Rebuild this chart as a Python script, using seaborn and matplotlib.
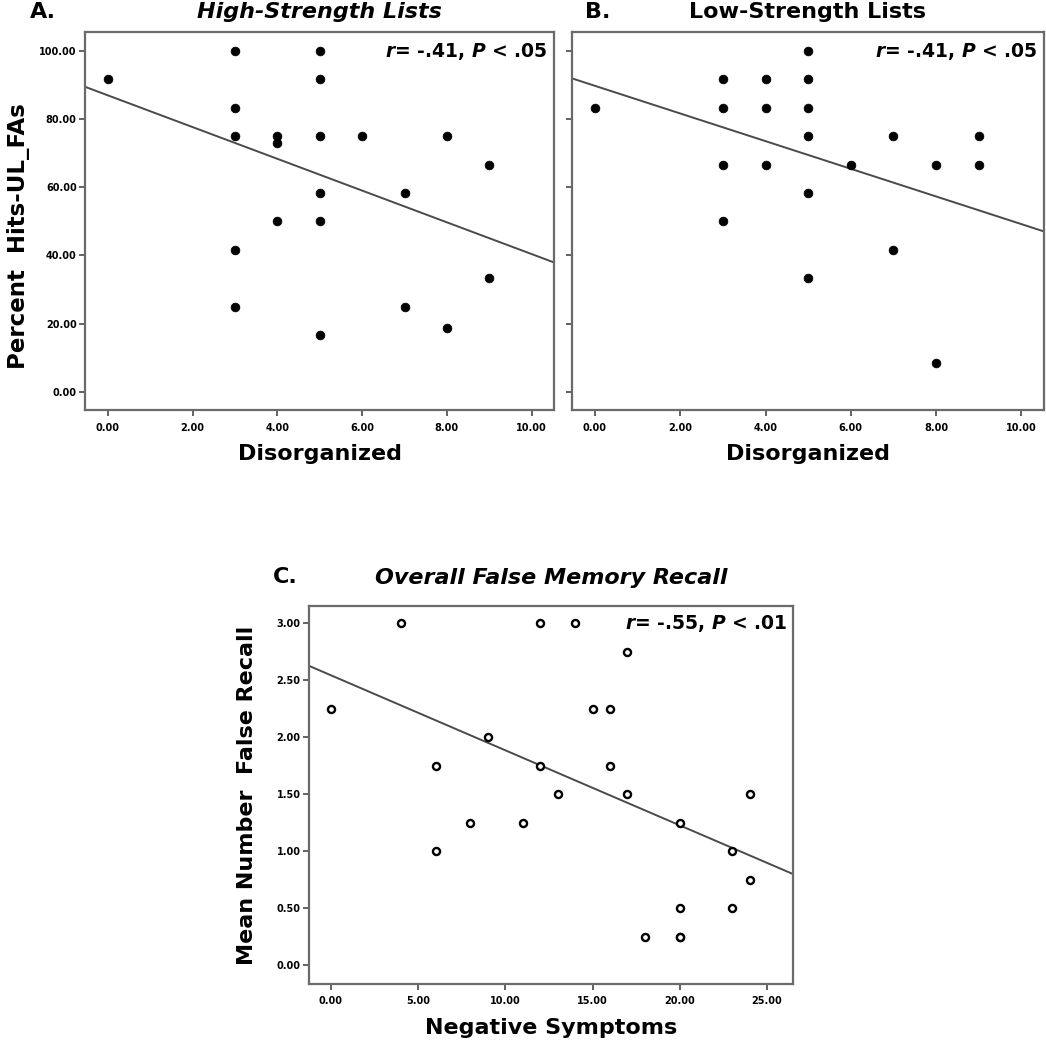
import numpy as np
import pandas as pd
import matplotlib
matplotlib.use('Agg')
import matplotlib.pyplot as plt
import seaborn as sns

# panel A: high-strength lists
hi_x = [0, 3, 3, 3, 3, 3, 4, 4, 4, 5, 5, 5, 5, 5, 5, 6, 7, 7, 8, 8, 9, 9]
hi_y = [91.67, 100, 83.33, 75, 41.67, 25, 75, 73, 50, 100, 91.67, 75, 58.33,
        50, 16.67, 75, 58.33, 25, 75, 18.75, 66.67, 33.33]
hi_fit = (87.0, -4.66)  # intercept, slope

# panel B: low-strength lists
lo_x = [0, 3, 3, 3, 3, 4, 4, 4, 5, 5, 5, 5, 5, 5, 6, 7, 7, 8, 8, 9, 9]
lo_y = [83.33, 91.67, 83.33, 66.67, 50, 91.67, 83.33, 66.67, 100, 91.67, 83.33,
        75, 58.33, 33.33, 66.67, 75, 41.67, 66.67, 8.33, 75, 66.67]
lo_fit = (89.8, -4.06)

# panel C: overall false memory recall
neg_x = [0, 4, 6, 6, 8, 9, 11, 12, 12, 13, 14, 15, 16, 16, 17, 17, 18, 20, 20,
         20, 20, 23, 23, 24, 24]
neg_y = [2.25, 3.0, 1.75, 1.0, 1.25, 2.0, 1.25, 3.0, 1.75, 1.5, 3.0, 2.25, 2.25,
         1.75, 2.75, 1.5, 0.25, 1.25, 0.5, 0.25, 0.25, 1.0, 0.5, 1.5, 0.75]
neg_fit = (2.542, -0.0658)

sns.set_theme(style='white')
plt.rcParams['font.family'] = ['DejaVu Sans']
plt.rcParams['text.color'] = 'black'
plt.rcParams['axes.labelcolor'] = 'black'
plt.rcParams['xtick.color'] = 'black'
plt.rcParams['ytick.color'] = 'black'
plt.rcParams['mathtext.fontset'] = 'custom'
plt.rcParams['mathtext.it'] = 'DejaVu Sans:bold:italic'
plt.rcParams['mathtext.rm'] = 'DejaVu Sans:bold'

fig = plt.figure(figsize=(10.46, 10.5), dpi=100)
axA = fig.add_axes([0.0813, 0.6095, 0.4484, 0.36])
axB = fig.add_axes([0.5468, 0.6095, 0.4512, 0.36])
axC = fig.add_axes([0.2954, 0.0629, 0.4627, 0.36])

frame = '#6a6a6a'
line_col = '#4a4a4a'
big = 16
note = 13.5


def style_axes(ax):
    for s in ax.spines.values():
        s.set_color(frame)
        s.set_linewidth(1.6)
    ax.tick_params(axis='both', which='major', direction='out', length=4,
                   width=1.3, color='#555555', labelsize=7, pad=2,
                   bottom=True, left=True)
    ax.tick_params(axis='x', pad=5)
    for lab in ax.get_xticklabels() + ax.get_yticklabels():
        lab.set_fontweight('bold')


panels = [
    (axA, hi_x, hi_y, hi_fit, 'High-Strength Lists', 'italic', 'A.', 0.029),
    (axB, lo_x, lo_y, lo_fit, 'Low-Strength Lists', 'normal', 'B.', 0.559),
]
for ax, xs, ys, fit, title, style, letter, lx in panels:
    df = pd.DataFrame({'x': xs, 'y': ys})
    sns.scatterplot(data=df, x='x', y='y', ax=ax, color='black', s=40,
                    edgecolor='black', linewidth=0.5, zorder=3)
    ax.axline((0, fit[0]), slope=fit[1], color=line_col, lw=1.4, zorder=2)
    ax.set_xlim(-0.54, 10.53)
    ax.set_ylim(-5.4, 105.6)
    ax.set_xticks(np.arange(0, 11, 2))
    ax.set_xticklabels([f'{v:.2f}' for v in np.arange(0, 11, 2)])
    ax.set_yticks(np.arange(0, 101, 20))
    ax.set_yticklabels([f'{v:.2f}' for v in np.arange(0, 101, 20)])
    ax.set_xlabel('Disorganized', fontsize=big, fontweight='bold', labelpad=8)
    ax.set_ylabel('')
    ax.set_title(title, fontsize=big, fontweight='bold', fontstyle=style, pad=10)
    ax.text(0.987, 100, r'$\mathit{r}$= -.41, $\mathit{P}$ < .05',
            transform=ax.get_yaxis_transform(), ha='right', va='center',
            fontsize=note, fontweight='bold')
    fig.text(lx, 1 - 18 / 1050, letter, fontsize=big, fontweight='bold',
             va='baseline')
    style_axes(ax)

axA.set_ylabel('Percent  Hits-UL_FAs', fontsize=16.5, fontweight='bold')
axA.yaxis.set_label_coords(-0.117, 0.46)
axB.set_yticklabels([])

dfc = pd.DataFrame({'x': neg_x, 'y': neg_y})
sns.scatterplot(data=dfc, x='x', y='y', ax=axC, facecolor='white',
                edgecolor='black', s=26, linewidth=1.7, zorder=3)
axC.axline((0, neg_fit[0]), slope=neg_fit[1], color=line_col, lw=1.4, zorder=2)
axC.set_xlim(-1.26, 26.49)
axC.set_ylim(-0.165, 3.15)
axC.set_xticks(np.arange(0, 26, 5))
axC.set_xticklabels([f'{v:.2f}' for v in np.arange(0, 26, 5)])
axC.set_yticks(np.arange(0, 3.01, 0.5))
axC.set_yticklabels([f'{v:.2f}' for v in np.arange(0, 3.01, 0.5)])
axC.set_xlabel('Negative Symptoms', fontsize=big, fontweight='bold', labelpad=8)
axC.set_ylabel('Mean Number  False Recall', fontsize=big, fontweight='bold',
               labelpad=14)
axC.set_title('Overall False Memory Recall', fontsize=big, fontweight='bold',
              fontstyle='italic', pad=16)
axC.text(0.988, 3.0, r'$\mathit{r}$= -.55, $\mathit{P}$ < .01',
         transform=axC.get_yaxis_transform(), ha='right', va='center',
         fontsize=note, fontweight='bold')
fig.text(0.261, 1 - 583 / 1050, 'C.', fontsize=big, fontweight='bold',
         va='baseline')
style_axes(axC)

fig.savefig('out.png', dpi=100, facecolor='white')
